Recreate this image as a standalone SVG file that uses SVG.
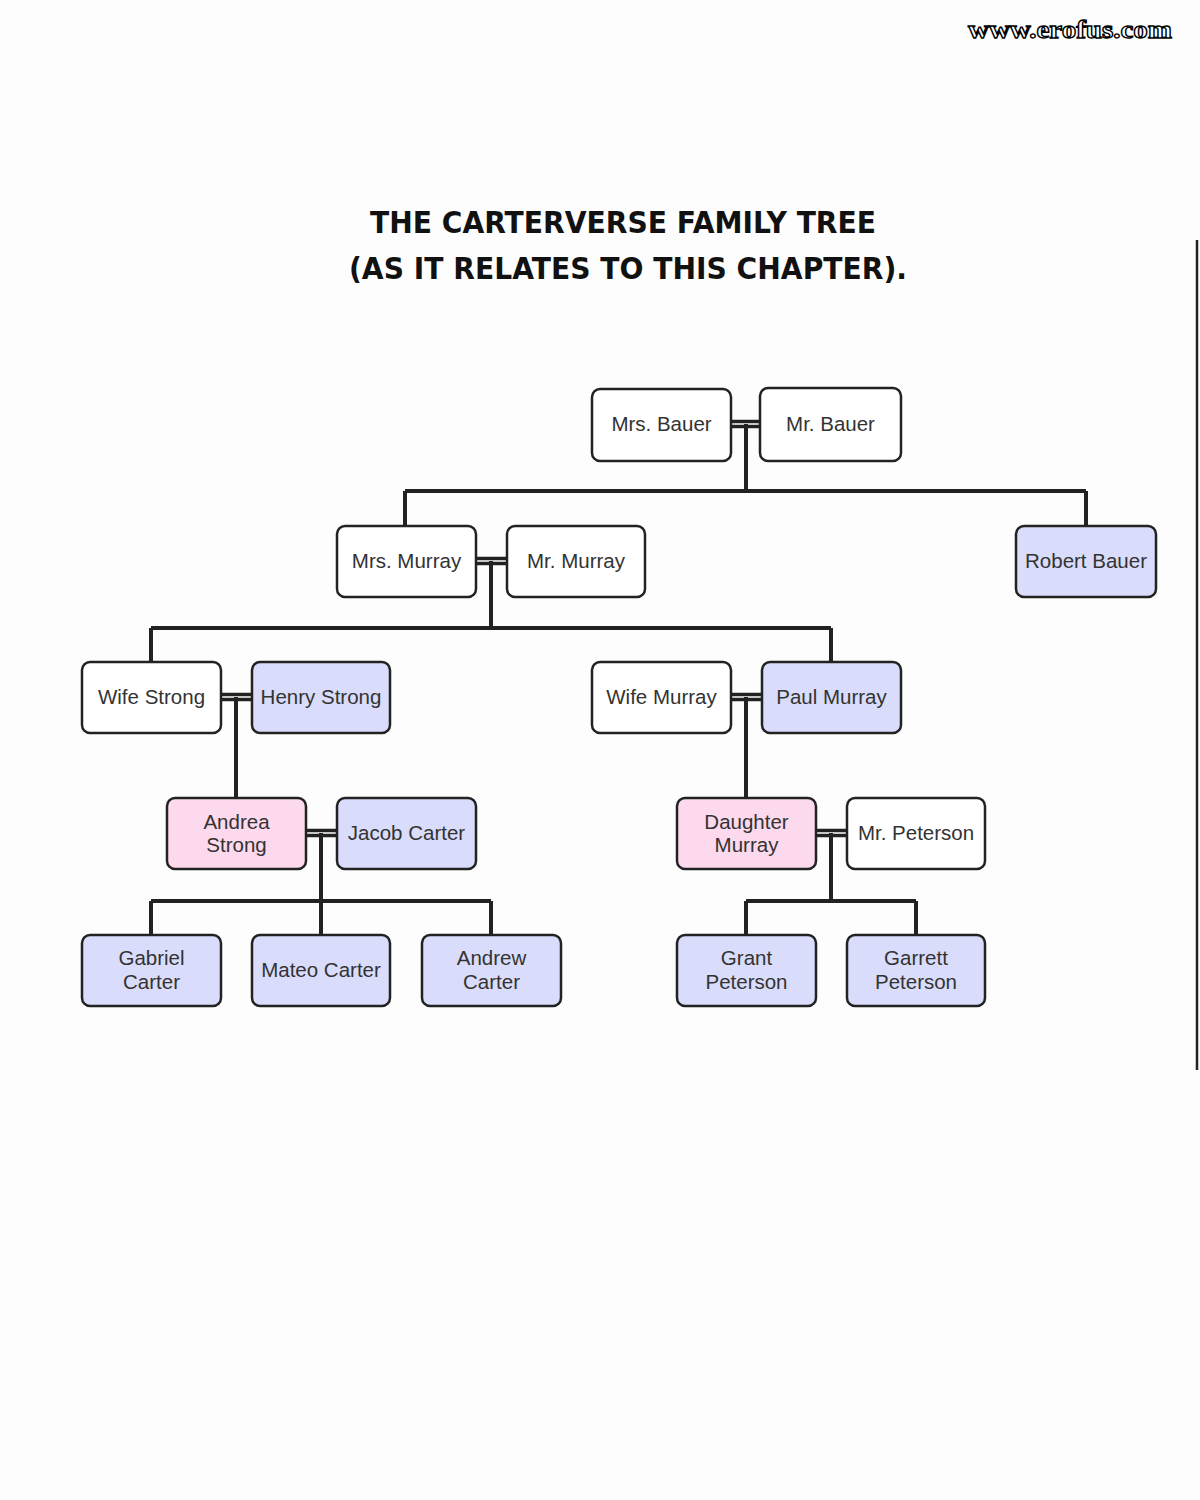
<svg xmlns="http://www.w3.org/2000/svg" width="1200" height="1500" viewBox="0 0 1200 1500">
<style>
.box{stroke:#222;stroke-width:2.5;}
.w{fill:#ffffff;}
.b{fill:#d9dcfa;}
.p{fill:#fcd9ec;}
.t{font-family:"Liberation Sans",Arial,sans-serif;font-size:20.5px;fill:#333;text-anchor:middle;}
.ln{stroke:#222;stroke-width:4;fill:none;}
.mar{stroke:#222;stroke-width:3.5;fill:none;}
.title{font-family:"DejaVu Sans","Liberation Sans",sans-serif;font-size:30px;font-weight:bold;fill:#111;text-anchor:middle;}
</style>
<rect x="0" y="0" width="1200" height="1500" fill="#fdfdfd"/>
<text x="1070" y="38" font-family="Liberation Serif,serif" font-weight="bold" font-size="26" fill="#fff" stroke="#000" stroke-width="1.3" text-anchor="middle" textLength="204" lengthAdjust="spacingAndGlyphs">www.erofus.com</text>
<line x1="1197" y1="240" x2="1197" y2="1070" stroke="#222" stroke-width="2.5"/>
<g id="title">
<text class="title" x="623" y="233" textLength="506" lengthAdjust="spacingAndGlyphs">THE CARTERVERSE FAMILY TREE</text>
<text class="title" x="628" y="279" textLength="558" lengthAdjust="spacingAndGlyphs">(AS IT RELATES TO THIS CHAPTER).</text>
</g>
<g id="connectors">
<line class="mar" x1="731" y1="421.5" x2="760" y2="421.5"/><line class="mar" x1="731" y1="426.5" x2="760" y2="426.5"/>
<path class="ln" d="M746 424 V491 M405 491 H1086 M405 491 V526 M1086 491 V526"/>
<line class="mar" x1="476" y1="558.5" x2="507" y2="558.5"/><line class="mar" x1="476" y1="563.5" x2="507" y2="563.5"/>
<path class="ln" d="M491 561 V628 M151 628 H831 M151 628 V662 M831 628 V662"/>
<line class="mar" x1="221" y1="694.5" x2="252" y2="694.5"/><line class="mar" x1="221" y1="699.5" x2="252" y2="699.5"/>
<path class="ln" d="M236 697 V798"/>
<line class="mar" x1="731" y1="694.5" x2="762" y2="694.5"/><line class="mar" x1="731" y1="699.5" x2="762" y2="699.5"/>
<path class="ln" d="M746 697 V798"/>
<line class="mar" x1="306" y1="830.5" x2="337" y2="830.5"/><line class="mar" x1="306" y1="835.5" x2="337" y2="835.5"/>
<path class="ln" d="M321 833 V901 M151 901 H491 M151 901 V935 M321 901 V935 M491 901 V935"/>
<line class="mar" x1="816" y1="830.5" x2="847" y2="830.5"/><line class="mar" x1="816" y1="835.5" x2="847" y2="835.5"/>
<path class="ln" d="M831 833 V901 M746 901 H916 M746 901 V935 M916 901 V935"/>
</g>
<g id="mrs-bauer"><rect class="box w" x="592" y="389" width="139" height="72" rx="8"/><text class="t" x="661.5" y="431">Mrs. Bauer</text></g>
<g id="mr-bauer"><rect class="box w" x="760" y="388" width="141" height="73" rx="8" stroke-width="3.5"/><text class="t" x="830.5" y="431">Mr. Bauer</text></g>
<g id="mrs-murray"><rect class="box w" x="337" y="526" width="139" height="71" rx="8"/><text class="t" x="406.5" y="568">Mrs. Murray</text></g>
<g id="mr-murray"><rect class="box w" x="507" y="526" width="138" height="71" rx="8"/><text class="t" x="576" y="568">Mr. Murray</text></g>
<g id="robert-bauer"><rect class="box b" x="1016" y="526" width="140" height="71" rx="8"/><text class="t" x="1086" y="568">Robert Bauer</text></g>
<g id="wife-strong"><rect class="box w" x="82" y="662" width="139" height="71" rx="8"/><text class="t" x="151.5" y="704">Wife Strong</text></g>
<g id="henry-strong"><rect class="box b" x="252" y="662" width="138" height="71" rx="8"/><text class="t" x="321" y="704">Henry Strong</text></g>
<g id="wife-murray"><rect class="box w" x="592" y="662" width="139" height="71" rx="8"/><text class="t" x="661.5" y="704">Wife Murray</text></g>
<g id="paul-murray"><rect class="box b" x="762" y="662" width="139" height="71" rx="8"/><text class="t" x="831.5" y="704">Paul Murray</text></g>
<g id="andrea-strong"><rect class="box p" x="167" y="798" width="139" height="71" rx="8"/><text class="t" x="236.5" y="829">Andrea</text><text class="t" x="236.5" y="852">Strong</text></g>
<g id="jacob-carter"><rect class="box b" x="337" y="798" width="139" height="71" rx="8"/><text class="t" x="406.5" y="840">Jacob Carter</text></g>
<g id="daughter-murray"><rect class="box p" x="677" y="798" width="139" height="71" rx="8"/><text class="t" x="746.5" y="829">Daughter</text><text class="t" x="746.5" y="852">Murray</text></g>
<g id="mr-peterson"><rect class="box w" x="847" y="798" width="138" height="71" rx="8"/><text class="t" x="916" y="840">Mr. Peterson</text></g>
<g id="gabriel-carter"><rect class="box b" x="82" y="935" width="139" height="71" rx="8"/><text class="t" x="151.5" y="965">Gabriel</text><text class="t" x="151.5" y="989">Carter</text></g>
<g id="mateo-carter"><rect class="box b" x="252" y="935" width="138" height="71" rx="8"/><text class="t" x="321" y="977">Mateo Carter</text></g>
<g id="andrew-carter"><rect class="box b" x="422" y="935" width="139" height="71" rx="8"/><text class="t" x="491.5" y="965">Andrew</text><text class="t" x="491.5" y="989">Carter</text></g>
<g id="grant-peterson"><rect class="box b" x="677" y="935" width="139" height="71" rx="8"/><text class="t" x="746.5" y="965">Grant</text><text class="t" x="746.5" y="989">Peterson</text></g>
<g id="garrett-peterson"><rect class="box b" x="847" y="935" width="138" height="71" rx="8"/><text class="t" x="916" y="965">Garrett</text><text class="t" x="916" y="989">Peterson</text></g>
</svg>
